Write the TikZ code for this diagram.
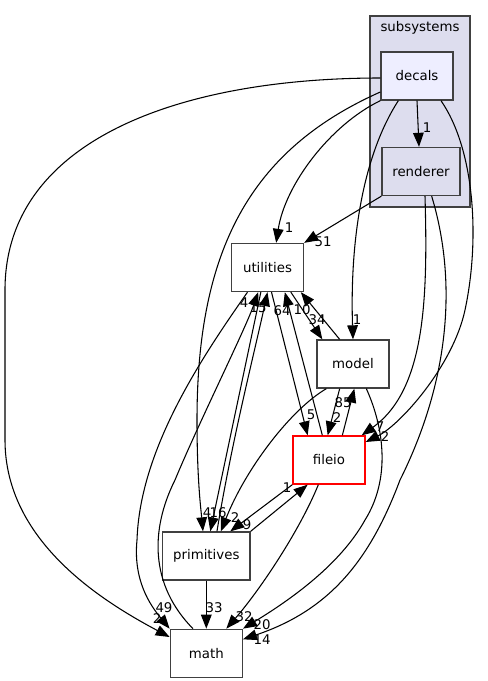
\documentclass[tikz,border=0pt]{standalone}
\usepackage{fontspec}
\setmainfont{DejaVu Sans}
\usetikzlibrary{positioning, arrows.meta}

\definecolor{dirfill}{HTML}{DDDDEE}
\definecolor{leaffill}{HTML}{EEEEFF}
\definecolor{dirline}{HTML}{404040}

\begin{document}
\begin{tikzpicture}[x=0.75pt, y=-0.75pt, font=\fontsize{10}{12}\selectfont,
    dirbox/.style={draw=dirline, line width=1pt, fill=white, minimum width=54pt, minimum height=36pt, inner sep=0pt},
    dep/.style={-{Triangle[length=10.5pt,width=8pt]}, line width=0.8pt},
    num/.style={inner sep=0pt}]
    \useasboundingbox (0,0) rectangle (487,681);
    \node[draw=dirline, fill=dirfill, line width=1pt, minimum width=75pt, minimum height=143.25pt, inner sep=0pt] (subsystems) at (420,111.5) {};
    \node (sublabel) at (420,28) {subsystems};
    \node[dirbox, fill=leaffill] (decals) at (417,76) {decals};
    \node[dirbox, fill=dirfill, minimum width=58.5pt] (renderer) at (421,171.5) {renderer};
    \node[dirbox] (utilities) at (267.5,267.5) {utilities};
    \node[dirbox] (model) at (353,364) {model};
    \node[dirbox, draw=red] (fileio) at (329,460) {fileio};
    \node[dirbox, minimum width=65.5pt] (primitives) at (206.3,556) {primitives};
    \node[dirbox, below=36pt of primitives] (math) {math};

    \draw[dep] (decals.south) -- ([xshift=-1.5pt]renderer.north) node[num] at (427,128) {1};
    \draw[dep] (decals.south west) .. controls (330,125) and (285,185) .. ([xshift=6.5pt]utilities.north) node[num] at (289,228) {1};
    \draw[dep] ([yshift=-1.5pt]decals.west) .. controls (180,78) and (5,140) .. (5,290) -- (5,440) .. controls (5,540) and (100,600) .. (math.156) node[num] at (157,619) {2};
    \draw[dep] ([yshift=-12pt]decals.west) .. controls (250,150) and (197,250) .. (197,420) .. controls (197,480) and (201,510) .. ([xshift=-2.5pt]primitives.north) node[num] at (207,513) {4};
    \draw[dep] ([xshift=-14pt]decals.south) .. controls (360,160) and (350,250) .. (model.north) node[num] at (357,320) {1};
    \draw[dep] ([xshift=18pt]decals.south) .. controls (475,150) and (480,240) .. (465,310) .. controls (453,366) and (400,425) .. ([yshift=13.5pt]fileio.east) node[num] at (385,437) {2};
    \draw[dep] (renderer.south west) -- (utilities.north east) node[num] at (323,242) {51};
    \draw[dep] ([xshift=3pt]renderer.south) .. controls (428,300) and (425,390) .. ([xshift=24.5pt]fileio.north) node[num] at (380,427) {7};
    \draw[dep] ([xshift=8pt]renderer.south) .. controls (460,290) and (445,390) .. (400,480) .. controls (370,560) and (330,610) .. ([yshift=10.5pt]math.east) node[num] at (262,640) {14};

    \draw[dep] ([xshift=17.5pt]utilities.south) -- ([xshift=-23pt]model.north) node[num] at (317,320) {34};
    \draw[dep] ([xshift=-10pt]model.north) -- ([xshift=25pt]utilities.south) node[num] at (302,310) {10};
    \draw[dep] ([xshift=-5pt]fileio.north) -- ([xshift=13pt]utilities.south) node[num] at (282,311) {64};
    \draw[dep] ([xshift=3pt]utilities.south) -- ([xshift=-16pt]fileio.north) node[num] at (311,415) {5};
    \draw[dep] ([xshift=-5pt]utilities.south) -- ([xshift=3pt]primitives.north) node[num] at (218,513) {16};
    \draw[dep] ([xshift=8pt]primitives.north) .. controls (232,440) and (255,350) .. (utilities.south) node[num] at (258,308) {15};
    \draw[dep] ([xshift=-15pt]utilities.south) .. controls (200,360) and (140,450) .. (137,540) .. controls (133,580) and (150,605) .. (math.north west) node[num] at (164,608) {49};
    \draw[dep] ([xshift=-10pt]math.north) .. controls (150,585) and (150,530) .. (175,480) .. controls (200,420) and (245,330) .. ([xshift=-7pt]utilities.south) node[num] at (244,303) {4};

    \draw[dep] ([xshift=-10pt]model.south) -- ([xshift=-1pt]fileio.north) node[num] at (337,418) {2};
    \draw[dep] ([xshift=10pt]fileio.north) -- ([xshift=1pt]model.south) node[num] at (343,403) {85};
    \draw[dep] ([xshift=-20pt]model.south) .. controls (290,410) and (245,470) .. ([xshift=11pt]primitives.north) node[num] at (235,518) {2};
    \draw[dep] ([xshift=10pt]model.south) .. controls (385,430) and (390,480) .. (365,520) .. controls (340,565) and (290,600) .. (math.north east) node[num] at (262,625) {20};

    \draw[dep] (fileio.south west) -- ([xshift=18pt]primitives.north) node[num] at (247,525) {9};
    \draw[dep] (primitives.north east) -- ([xshift=-16pt]fileio.south) node[num] at (287,488) {1};
    \draw[dep] ([xshift=-8pt]fileio.south) .. controls (300,530) and (260,590) .. ([xshift=15pt]math.north) node[num] at (244,617) {32};
    \draw[dep] (primitives.south) -- (math.north) node[num] at (214,608) {33};
\end{tikzpicture}
\end{document}
